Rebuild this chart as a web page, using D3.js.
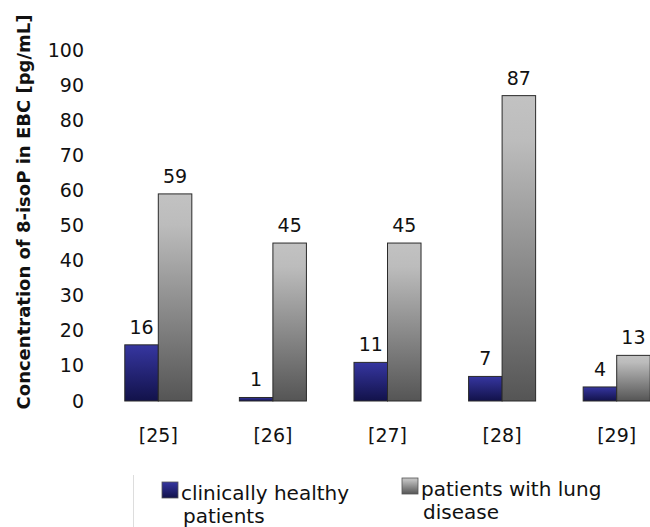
<!DOCTYPE html>
<html>
<head>
<meta charset="utf-8">
<script src="https://cdn.jsdelivr.net/npm/d3@7"></script>
<style>
  body { margin: 0; background: #fff; }
  svg { display: block; font-family: "DejaVu Sans", Verdana, sans-serif; }
</style>
</head>
<body>
<div id="chart"></div>
<script>
// data
const studies = ["[25]", "[26]", "[27]", "[28]", "[29]"];
const healthy = [16, 1, 11, 7, 4];
const lungDisease = [59, 45, 45, 87, 13];
const seriesNames = ["clinically healthy patients", "patients with lung disease"];
const yTicks = [0, 10, 20, 30, 40, 50, 60, 70, 80, 90, 100];

const W = 650, H = 527;
const svg = d3.select("#chart").append("svg")
    .attr("width", W).attr("height", H);

const defs = svg.append("defs");
const gBlue = defs.append("linearGradient").attr("id", "gBlue")
    .attr("x1", 0).attr("y1", 0).attr("x2", 0).attr("y2", 1);
gBlue.append("stop").attr("offset", "0%").attr("stop-color", "#3636a0");
gBlue.append("stop").attr("offset", "100%").attr("stop-color", "#12124a");
const gGray = defs.append("linearGradient").attr("id", "gGray")
    .attr("x1", 0).attr("y1", 0).attr("x2", 0).attr("y2", 1);
gGray.append("stop").attr("offset", "0%").attr("stop-color", "#c2c2c2");
gGray.append("stop").attr("offset", "15%").attr("stop-color", "#bcbcbc");
gGray.append("stop").attr("offset", "100%").attr("stop-color", "#555555");

const fills = ["url(#gBlue)", "url(#gGray)"];

// scales
var x0 = d3.scaleBand()
    .domain(studies)
    .range([101, 674])
    .paddingInner(0.415)
    .paddingOuter(0.2075);
var x1 = d3.scaleBand()
    .domain([0, 1])
    .range([0, x0.bandwidth()]);
var y = d3.scaleLinear()
    .domain([0, 100])
    .range([401, 50]);

// y axis (labels only)
var yAxis = svg.append("g")
    .attr("transform", "translate(84,0)")
    .call(d3.axisLeft(y).tickValues(yTicks).tickSize(0).tickPadding(0));
yAxis.select(".domain").remove();
yAxis.selectAll("text")
    .attr("font-size", 19)
    .attr("font-family", "DejaVu Sans, Verdana, sans-serif")
    .attr("fill", "#111");

// x axis (labels only)
var xAxis = svg.append("g")
    .attr("transform", "translate(0,428)")
    .call(d3.axisBottom(x0).tickSize(0).tickPadding(0));
xAxis.select(".domain").remove();
xAxis.selectAll("text")
    .attr("font-size", 19)
    .attr("font-family", "DejaVu Sans, Verdana, sans-serif")
    .attr("fill", "#111");

// axis title
svg.append("text")
    .attr("transform", "translate(30," + 212 + ") rotate(-90)")
    .attr("text-anchor", "middle")
    .attr("font-size", 18)
    .attr("font-weight", "bold")
    .attr("fill", "#111")
    .text("Concentration of 8-isoP in EBC [pg/mL]");

// bars
var rows = studies.map(function(s, i) {
    return { study: s, values: [healthy[i], lungDisease[i]] };
});

var slice = svg.selectAll(".slice")
    .data(rows)
    .enter().append("g")
    .attr("class", "slice")
    .attr("transform", function(d) { return "translate(" + x0(d.study) + ",0)"; });

slice.selectAll("rect")
    .data(function(d) { return d.values; })
    .enter().append("rect")
    .attr("x", function(d, i) { return x1(i); })
    .attr("y", function(d) { return y(d); })
    .attr("width", x1.bandwidth())
    .attr("height", function(d) { return y(0) - y(d); })
    .attr("fill", function(d, i) { return fills[i]; })
    .attr("stroke", "#2a2a2a")
    .attr("stroke-width", 1);

slice.selectAll(".val")
    .data(function(d) { return d.values; })
    .enter().append("text")
    .attr("class", "val")
    .attr("x", function(d, i) { return x1(i) + x1.bandwidth() / 2; })
    .attr("y", function(d) { return y(d) - 11; })
    .attr("text-anchor", "middle")
    .attr("font-size", 19)
    .attr("fill", "#111")
    .text(function(d) { return d; });

// legend
svg.append("line")
    .attr("x1", 133.5).attr("x2", 133.5)
    .attr("y1", 475).attr("y2", 527)
    .attr("stroke", "#ddd");

var legendPos = [[162, 482], [402, 478]];
var legendLines = [["clinically healthy", "patients"], ["patients with lung", "disease"]];
var legend = svg.selectAll(".legend")
    .data(seriesNames)
    .enter().append("g")
    .attr("class", "legend")
    .attr("transform", function(d, i) { return "translate(" + legendPos[i][0] + "," + legendPos[i][1] + ")"; });

legend.append("rect")
    .attr("width", 16).attr("height", 16)
    .attr("fill", function(d, i) { return fills[i]; })
    .attr("stroke", "#555").attr("stroke-width", 0.8);

legend.append("text")
    .attr("y", 18)
    .attr("font-size", 20)
    .attr("fill", "#111")
    .selectAll("tspan")
    .data(function(d, i) { return legendLines[i]; })
    .enter().append("tspan")
    .attr("x", function(d, i) { return i === 0 ? 19 : 21; })
    .attr("dy", function(d, i) { return i === 0 ? 0 : 23; })
    .text(function(d) { return d; });
</script>
</body>
</html>
